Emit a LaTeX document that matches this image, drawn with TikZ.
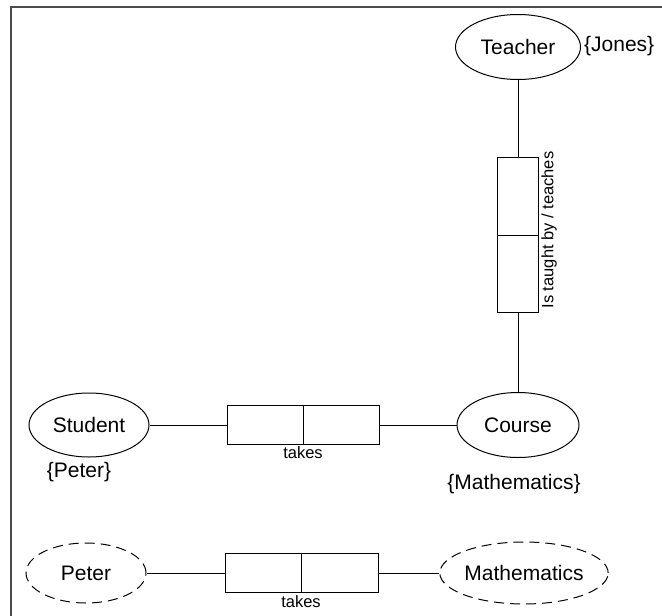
\documentclass[tikz,border=0pt]{standalone}
\usepackage{fontspec}
\setmainfont{Liberation Sans}
\usetikzlibrary{shapes.geometric}
\begin{document}
\begin{tikzpicture}[x=1pt,y=-1pt,
  ent/.style={ellipse, draw, line width=1pt, inner sep=0pt,
    font=\fontsize{21}{25}\selectfont},
  instance/.style={ent, dash pattern=on 10pt off 6pt},
  half/.style={rectangle, draw, line width=1pt, inner sep=0pt},
  link/.style={line width=1pt},
  biglbl/.style={font=\fontsize{21}{25}\selectfont, inner sep=0pt},
  smalllbl/.style={font=\fontsize{16.5}{19}\selectfont, inner sep=0pt}]
\useasboundingbox (0,0) rectangle (662,616);

% page frame (top and left edges)
\draw[line width=1.5pt, black!70] (11,616) -- (11,7) -- (662,7);

% Teacher entity and its relationship to Course
\node[ent, minimum width=125, minimum height=65] (teacher) at (518,47) {Teacher};
\node[biglbl, anchor=west] (jones) at (584,46) {\{Jones\}};
\node[half, minimum width=41, minimum height=78] (teachA) at (518,196) {};
\node[half, minimum width=41, minimum height=77] (teachB) at (518,273.5) {};
\node[smalllbl, rotate=90] (teachlbl) at (549,230) {Is taught by / teaches};

% Course and Student entities
\node[ent, minimum width=122, minimum height=65] (course) at (518,425) {Course};
\node[ent, minimum width=120, minimum height=64] (student) at (89,425) {Student};
\node[biglbl] (peterset) at (79,472) {\{Peter\}};
\node[biglbl] (mathset) at (514,484) {\{Mathematics\}};

% "takes" relationship between Student and Course
\node[half, minimum width=76, minimum height=39] (takesA) at (265,425) {};
\node[half, minimum width=76, minimum height=39] (takesB) at (341,425) {};
\node[smalllbl] (takeslbl) at (303,453) {takes};

\draw[link] (teacher) -- (teachA);
\draw[link] (teachB) -- (course);
\draw[link] (student) -- (takesA);
\draw[link] (takesB) -- (course);

% instance level: Peter takes Mathematics
\node[instance, minimum width=120, minimum height=60] (peter) at (86,573) {Peter};
\node[instance, minimum width=168, minimum height=62] (math) at (524,573) {Mathematics};
\node[half, minimum width=76, minimum height=39] (instA) at (263,573) {};
\node[half, minimum width=77, minimum height=39] (instB) at (339.5,573) {};
\node[smalllbl] (instlbl) at (301,602) {takes};

\draw[link] (peter) -- (instA);
\draw[link] (instB) -- (math);
\end{tikzpicture}
\end{document}
